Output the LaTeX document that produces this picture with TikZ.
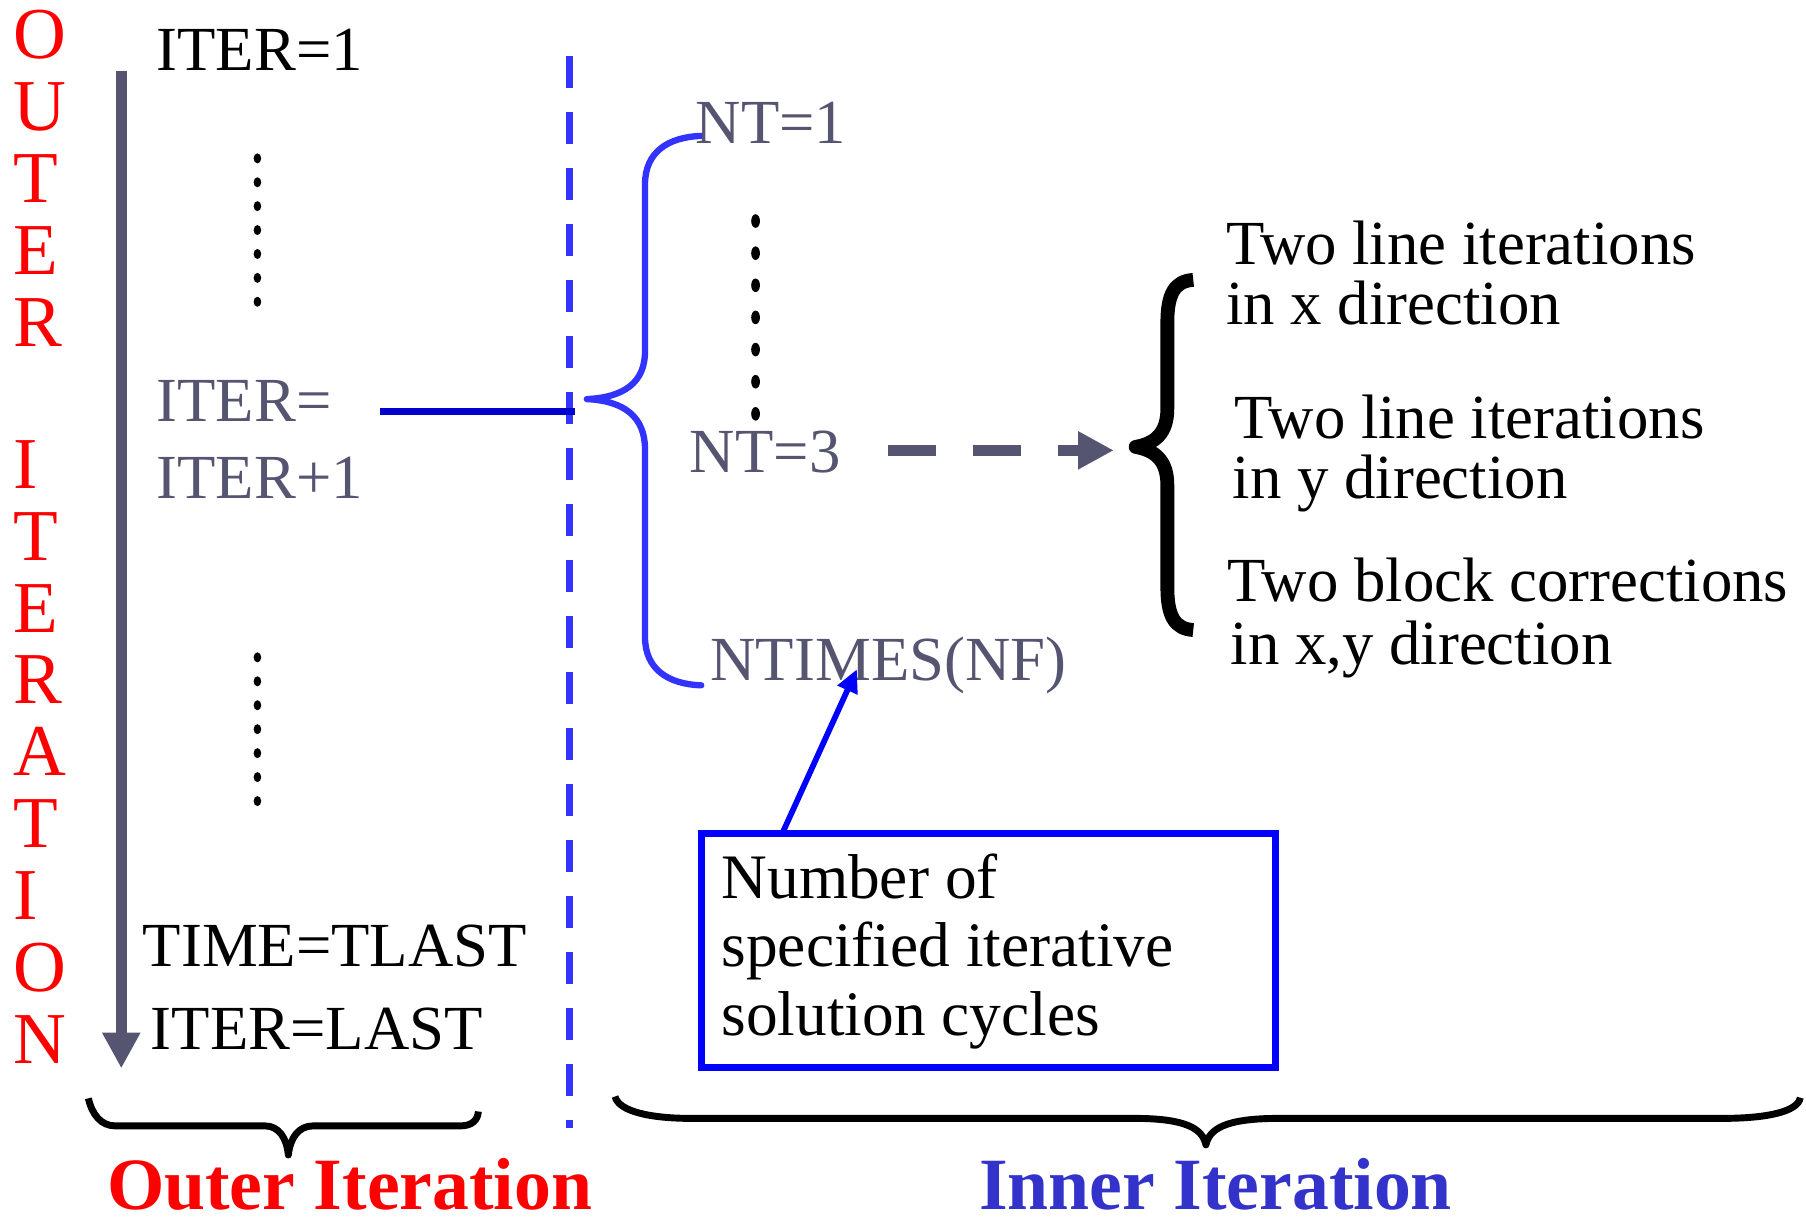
\documentclass[tikz,border=0pt]{standalone}
\usepackage{fontspec}
\setmainfont{Liberation Serif}
\usetikzlibrary{arrows.meta}
\definecolor{slate}{RGB}{85,85,114}
\definecolor{bbright}{RGB}{51,51,255}
\definecolor{bdark}{RGB}{0,0,204}
\definecolor{bpure}{RGB}{0,0,255}
\definecolor{binner}{RGB}{51,51,204}
\begin{document}
\begin{tikzpicture}[x=1pt,y=-1pt,
  txt/.style={anchor=base west, inner sep=0pt, outer sep=0pt, font=\fontsize{54.5}{60}\selectfont},
  graytxt/.style={txt, text=slate},
  boxtxt/.style={txt, font=\fontsize{55}{60}\selectfont},
  redletter/.style={anchor=base west, inner sep=0pt, outer sep=0pt, text=red, font=\fontsize{63.5}{70}\selectfont},
  biglabel/.style={anchor=base west, inner sep=0pt, outer sep=0pt, font=\bfseries\fontsize{64}{70}\selectfont},
  dotmark/.style={fill=black},
  bracepath/.style={line width=6pt, line join=round},
]
\useasboundingbox (0,0) rectangle (1568,1057);
\fill[white] (0,0) rectangle (1568,1057);

% red vertical OUTER ITERATION
\foreach \l [count=\i] in {O,U,T,E,R}
  \node[redletter] (out\i) at (12,{51+62.4*(\i-1)}) {\l};
\foreach \l [count=\i] in {I,T,E,R,A,T,I,O,N}
  \node[redletter] (itn\i) at (12,{424+62.4*(\i-1)}) {\l};

% main vertical arrow
\coordinate (arrtop) at (105.3,61.6);
\coordinate (arrbot) at (105.3,927.6);
\draw[slate, line width=9.3pt, -{Triangle[length=31pt,width=31pt]}] (arrtop) -- (arrbot);

% left texts
\node[txt] (iter1) at (136,61) {ITER=1};
\node[graytxt] (itera) at (136,366) {ITER=};
\node[graytxt] (iterb) at (136,433) {ITER+1};
\node[txt] (tlast) at (124,839) {TIME=TLAST};
\node[txt] (ilast) at (131,911) {ITER=LAST};

% dotted columns
\foreach \k in {0,...,6} {
  \fill[dotmark] (223.5,{137.5+20.75*\k}) ellipse [x radius=3.3pt, y radius=4.35pt];
  \fill[dotmark] (223.5,{570.7+20.8*\k}) ellipse [x radius=3.3pt, y radius=4.35pt];
  \fill[dotmark] (656,{191.9+27.9*\k}) ellipse [x radius=3.8pt, y radius=5.9pt];
}

% dashed blue separator
\coordinate (dtop) at (494.6,48.6);
\coordinate (dbot) at (494.6,979);
\draw[bbright, line width=6.6pt, dash pattern=on 27.8pt off 20.83pt] (dtop) -- (dbot);

% horizontal dark blue connector
\coordinate (hstart) at (330,357);
\coordinate (hend) at (499,357);
\draw[bdark, line width=6.4pt] (hstart) -- (hend);

% blue brace
\coordinate (bluetip) at (509.5,346.5);
\draw[bbright, line width=5.5pt, line cap=round, line join=round]
  (608.8,118) .. controls (580,119) and (560,132) .. (560,160) -- (560,305)
  .. controls (560,332) and (542,345) .. (bluetip)
  .. controls (542,348) and (560,362) .. (560,390) -- (560,553)
  .. controls (560,581) and (580,594) .. (608.8,595);

% inner texts
\node[graytxt] (nt1) at (604,125) {NT=1};
\node[graytxt] (nt3) at (599,410) {NT=3};
\node[graytxt] (ntimes) at (617,591) {NTIMES(NF)};

% black brace
\coordinate (blacktip) at (986,388);
\draw[line width=12pt, line join=round]
  (1036,243) .. controls (1020,244) and (1013.5,255) .. (1013.5,280) -- (1013.5,355)
  .. controls (1013.5,376) and (1003,385) .. (blacktip)
  .. controls (1003,391) and (1013.5,400) .. (1013.5,421) -- (1013.5,510)
  .. controls (1013.5,535) and (1020,546) .. (1036,547);

% dashed gray arrow
\coordinate (dastart) at (770.6,391);
\coordinate (daend) at (967,391);
\draw[slate, line width=10pt, dash pattern=on 42pt off 32pt, -{Triangle[length=31pt,width=31pt]}] (dastart) -- (daend);

% right texts
\node[txt] (r1a) at (1064.5,230) {Two line iterations};
\node[txt] (r1b) at (1064.5,282) {in x direction};
\node[txt] (r2a) at (1072,380.5) {Two line iterations};
\node[txt] (r2b) at (1070.3,432.6) {in y direction};
\node[txt] (r3a) at (1066,522.3) {Two block corrections};
\node[txt] (r3b) at (1068.4,577) {in x,y direction};

% box
\node[draw=bpure, line width=6pt, minimum width=498pt, minimum height=203pt, inner sep=0pt, outer sep=0pt, anchor=north west] (box) at (609,724) {};
\node[boxtxt] (bt1) at (626.5,780) {Number of};
\node[boxtxt] (bt2) at (626.5,839) {specified iterative};
\node[boxtxt] (bt3) at (626.5,898.6) {solution cycles};

% arrow from box to NTIMES
\coordinate (boxarr) at ([xshift=70pt]box.north west);
\coordinate (ntarr) at (744,581);
\draw[bpure, line width=5pt, -{Triangle[length=20pt,width=18pt]}] (boxarr) -- (ntarr);

% bottom braces
\coordinate (outertip) at (250.3,1002.8);
\draw[bracepath]
  (76.7,953.6) .. controls (80,968) and (88,977.5) .. (100,977.5) -- (230,977.5)
  .. controls (242,977.5) and (249,988) .. (outertip)
  .. controls (252,988) and (259,977.5) .. (272,977.5) -- (400,977.5)
  .. controls (410,977.5) and (415,972) .. (415.3,965);
\coordinate (innertip) at (1047,994);
\draw[bracepath]
  (534,952) .. controls (537,965) and (565,971) .. (600,971) -- (985,971)
  .. controls (1030,971) and (1044,980) .. (innertip)
  .. controls (1050,980) and (1064,971) .. (1110,971) -- (1495,971)
  .. controls (1535,971) and (1561,965) .. (1563,953);

\node[biglabel, text=red] (outerlbl) at (93,1050.5) {Outer Iteration};
\node[biglabel, text=binner] (innerlbl) at (850,1050.5) {Inner Iteration};
\end{tikzpicture}
\end{document}
